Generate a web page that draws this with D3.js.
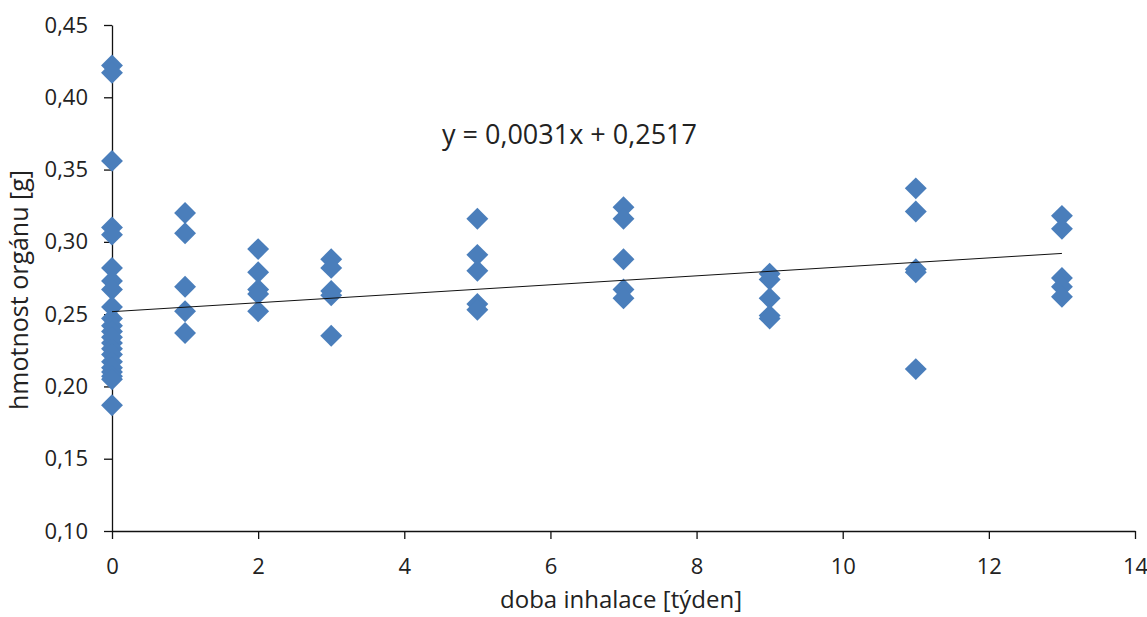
<html>
<head>
  <meta charset="utf-8">
  <title>hmotnost orgánu</title>
  <script src="https://d3js.org/d3.v7.min.js"></script>
  <style>
    body { margin: 0; background: #fff; overflow: hidden; }
    text { font-family: "Open Sans", "Noto Sans", sans-serif; fill: #222; }
  </style>
</head>
<body>
<svg id="chart" width="1147" height="617"></svg>
<script>
  // data: week of inhalation and organ weight in g
  var weeks = [0, 1, 2, 3, 5, 7, 9, 11, 13];
  var weights = [
    [0.422, 0.417, 0.356, 0.310, 0.305, 0.282, 0.273, 0.267, 0.255,
     0.247, 0.242, 0.238, 0.234, 0.230, 0.226, 0.222, 0.217, 0.213, 0.210, 0.207, 0.205, 0.187],
    [0.320, 0.306, 0.269, 0.252, 0.237],
    [0.295, 0.279, 0.267, 0.264, 0.252],
    [0.288, 0.282, 0.266, 0.263, 0.235],
    [0.316, 0.291, 0.280, 0.257, 0.253],
    [0.324, 0.316, 0.288, 0.267, 0.261],
    [0.278, 0.274, 0.261, 0.249, 0.247],
    [0.337, 0.321, 0.281, 0.279, 0.212],
    [0.318, 0.309, 0.275, 0.269, 0.262]
  ];
  var xTicks = [0, 2, 4, 6, 8, 10, 12, 14];
  var yTicks = [0.10, 0.15, 0.20, 0.25, 0.30, 0.35, 0.40, 0.45];
  var trend = { slope: 0.0031, intercept: 0.2517, from: 0, to: 13 };
  var equationLabel = "y = 0,0031x + 0,2517";
  var xTitle = "doba inhalace [týden]";
  var yTitle = "hmotnost orgánu [g]";

  var svg = d3.select("#chart");

  var x = d3.scaleLinear().domain([0, 14]).range([112, 1135]);
  var y = d3.scaleLinear().domain([0.10, 0.45]).range([531, 25]);

  var points = [];
  weeks.forEach(function(w, i) {
    weights[i].forEach(function(v) { points.push({ week: w, weight: v }); });
  });

  // axes
  var xAxis = svg.append("g")
    .attr("transform", "translate(0," + y(0.10) + ")")
    .call(d3.axisBottom(x).tickValues(xTicks).tickSize(8).tickSizeOuter(0).tickPadding(19));
  var yAxis = svg.append("g")
    .attr("transform", "translate(" + x(0) + ",0)")
    .call(d3.axisLeft(y).tickValues(yTicks).tickSize(8).tickSizeOuter(0).tickPadding(16)
      .tickFormat(function(d) { return d.toFixed(2).replace(".", ","); }));

  [xAxis, yAxis].forEach(function(a) {
    a.selectAll("path, line").attr("stroke", "#111").attr("stroke-width", 1.3);
    a.selectAll("text").style("font-size", "22px").attr("fill", "#222");
  });

  // markers
  var diamond = d3.symbol().type(d3.symbolSquare).size(240);
  svg.append("g").selectAll("path")
    .data(points)
    .enter().append("path")
    .attr("d", diamond)
    .attr("transform", function(d) { return "translate(" + x(d.week) + "," + y(d.weight) + ") rotate(45)"; })
    .attr("fill", "#4a7ebb");

  // linear trend line
  svg.append("line")
    .attr("x1", x(trend.from))
    .attr("y1", y(trend.intercept + trend.slope * trend.from))
    .attr("x2", x(trend.to))
    .attr("y2", y(trend.intercept + trend.slope * trend.to))
    .attr("stroke", "#111")
    .attr("stroke-width", 1);

  svg.append("text")
    .attr("x", 442)
    .attr("y", 144)
    .style("font-size", "27px")
    .text(equationLabel);

  svg.append("text")
    .attr("x", 621)
    .attr("y", 608)
    .attr("text-anchor", "middle")
    .style("font-size", "24px")
    .text(xTitle);

  svg.append("text")
    .attr("transform", "translate(28,290) rotate(-90)")
    .attr("text-anchor", "middle")
    .style("font-size", "25px")
    .text(yTitle);
</script>
</body>
</html>
